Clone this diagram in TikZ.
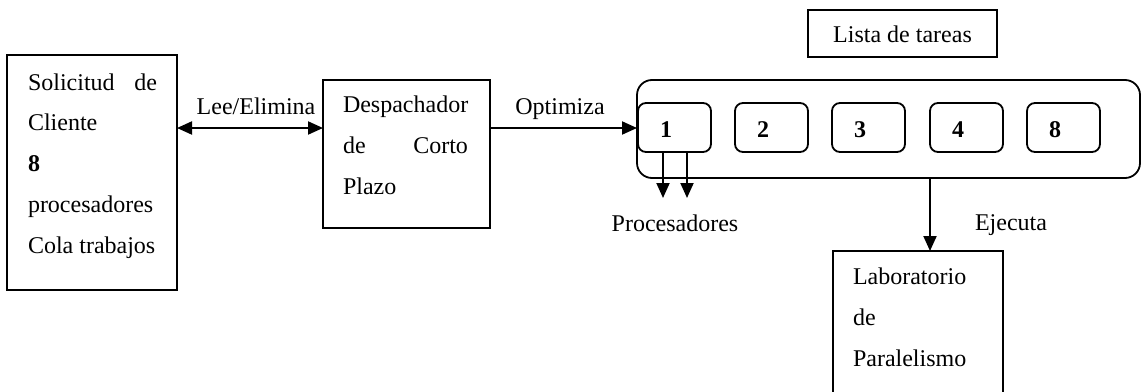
\documentclass[tikz,border=0pt]{standalone}
\usepackage{fontspec}
\setmainfont{Liberation Serif}
\usetikzlibrary{arrows.meta}
\begin{document}
\begin{tikzpicture}[x=1pt,y=-1pt,
  every node/.style={inner sep=0pt, outer sep=0pt},
  box/.style={draw, line width=1.8pt},
  area/.style={anchor=north west},
  rbox/.style={draw, line width=1.8pt, rounded corners=8pt, anchor=north west, minimum width=73pt, minimum height=49pt},
  txt/.style={anchor=base west, font=\fontsize{24}{28}\selectfont},
  ctxt/.style={anchor=base, font=\fontsize{24}{28}\selectfont},
  num/.style={anchor=base, font=\fontsize{24}{28}\selectfont\bfseries},
  conn/.style={line width=2pt, -{Triangle[length=15pt,width=13pt]}},
  dconn/.style={line width=2pt, {Triangle[length=15pt,width=13pt]}-{Triangle[length=15pt,width=13pt]}}
]
\useasboundingbox (0,0) rectangle (1142,391);

% Left box
\node[box, area, minimum width=170pt, minimum height=235pt] (cli) at (7,55) {};
\node[txt] (c1) at (28,90) {\makebox[129pt][s]{Solicitud\hfill de}};
\node[txt] (c2) at (28,130.8) {Cliente};
\node[txt] (c3) at (28,171.6) {\textbf{8}};
\node[txt] (c4) at (28,212.4) {procesadores};
\node[txt] (c5) at (28,253.2) {Cola trabajos};

% Dispatcher
\node[box, area, minimum width=167pt, minimum height=148pt] (desp) at (323,80) {};
\node[txt] (d1) at (343,112) {Despachador};
\node[txt] (d2) at (343,153) {\makebox[125pt][s]{de\hfill Corto}};
\node[txt] (d3) at (343,194) {Plazo};

% Task list title
\node[box, area, minimum width=189pt, minimum height=47pt] (lista) at (808,10) {};
\node[ctxt] (listat) at (902.5,42) {Lista de tareas};

% Big rounded container
\node[draw, line width=1.8pt, rounded corners=15pt, area, minimum width=503pt, minimum height=98pt] (big) at (637,80) {};

% Processor boxes
\node[rbox] (b1) at (638,103) {};
\node[rbox] (b2) at (735,103) {};
\node[rbox] (b3) at (832,103) {};
\node[rbox] (b4) at (930,103) {};
\node[rbox] (b8) at (1027,103) {};
\node[num] (n1) at (666,137) {1};
\node[num] (n2) at (763,137) {2};
\node[num] (n3) at (860,137) {3};
\node[num] (n4) at (958,137) {4};
\node[num] (n8) at (1055,137) {8};

% Laboratory box (open at the bottom, runs off the page)
\node[area, minimum width=170pt, minimum height=150pt] (lab) at (833,251) {};
\draw[line width=1.8pt] (lab.south west) -- (lab.north west) -- (lab.north east) -- (lab.south east);
\node[txt] (l1) at (853,284) {Laboratorio};
\node[txt] (l2) at (853,325) {de};
\node[txt] (l3) at (853,366) {Paralelismo};

% Connectors
\coordinate (ay) at (0,128);
\draw[dconn] (cli.east |- ay) -- (desp.west |- ay);
\node[ctxt] (lee) at (256,114) {Lee/Elimina};
\draw[conn] (desp.east |- ay) -- (big.west |- ay);
\node[ctxt] (opt) at (560,114) {Optimiza};

\coordinate (p1) at (663,198);
\coordinate (p2) at (687,198);
\draw[conn] (b1.south -| p1) -- (p1);
\draw[conn] (b1.south -| p2) -- (p2);
\node[ctxt] (proc) at (675,231) {Procesadores};

\coordinate (ex) at (930,0);
\draw[conn] (big.south -| ex) -- (lab.north -| ex);
\node[txt] (ej) at (975,230) {Ejecuta};
\end{tikzpicture}
\end{document}
